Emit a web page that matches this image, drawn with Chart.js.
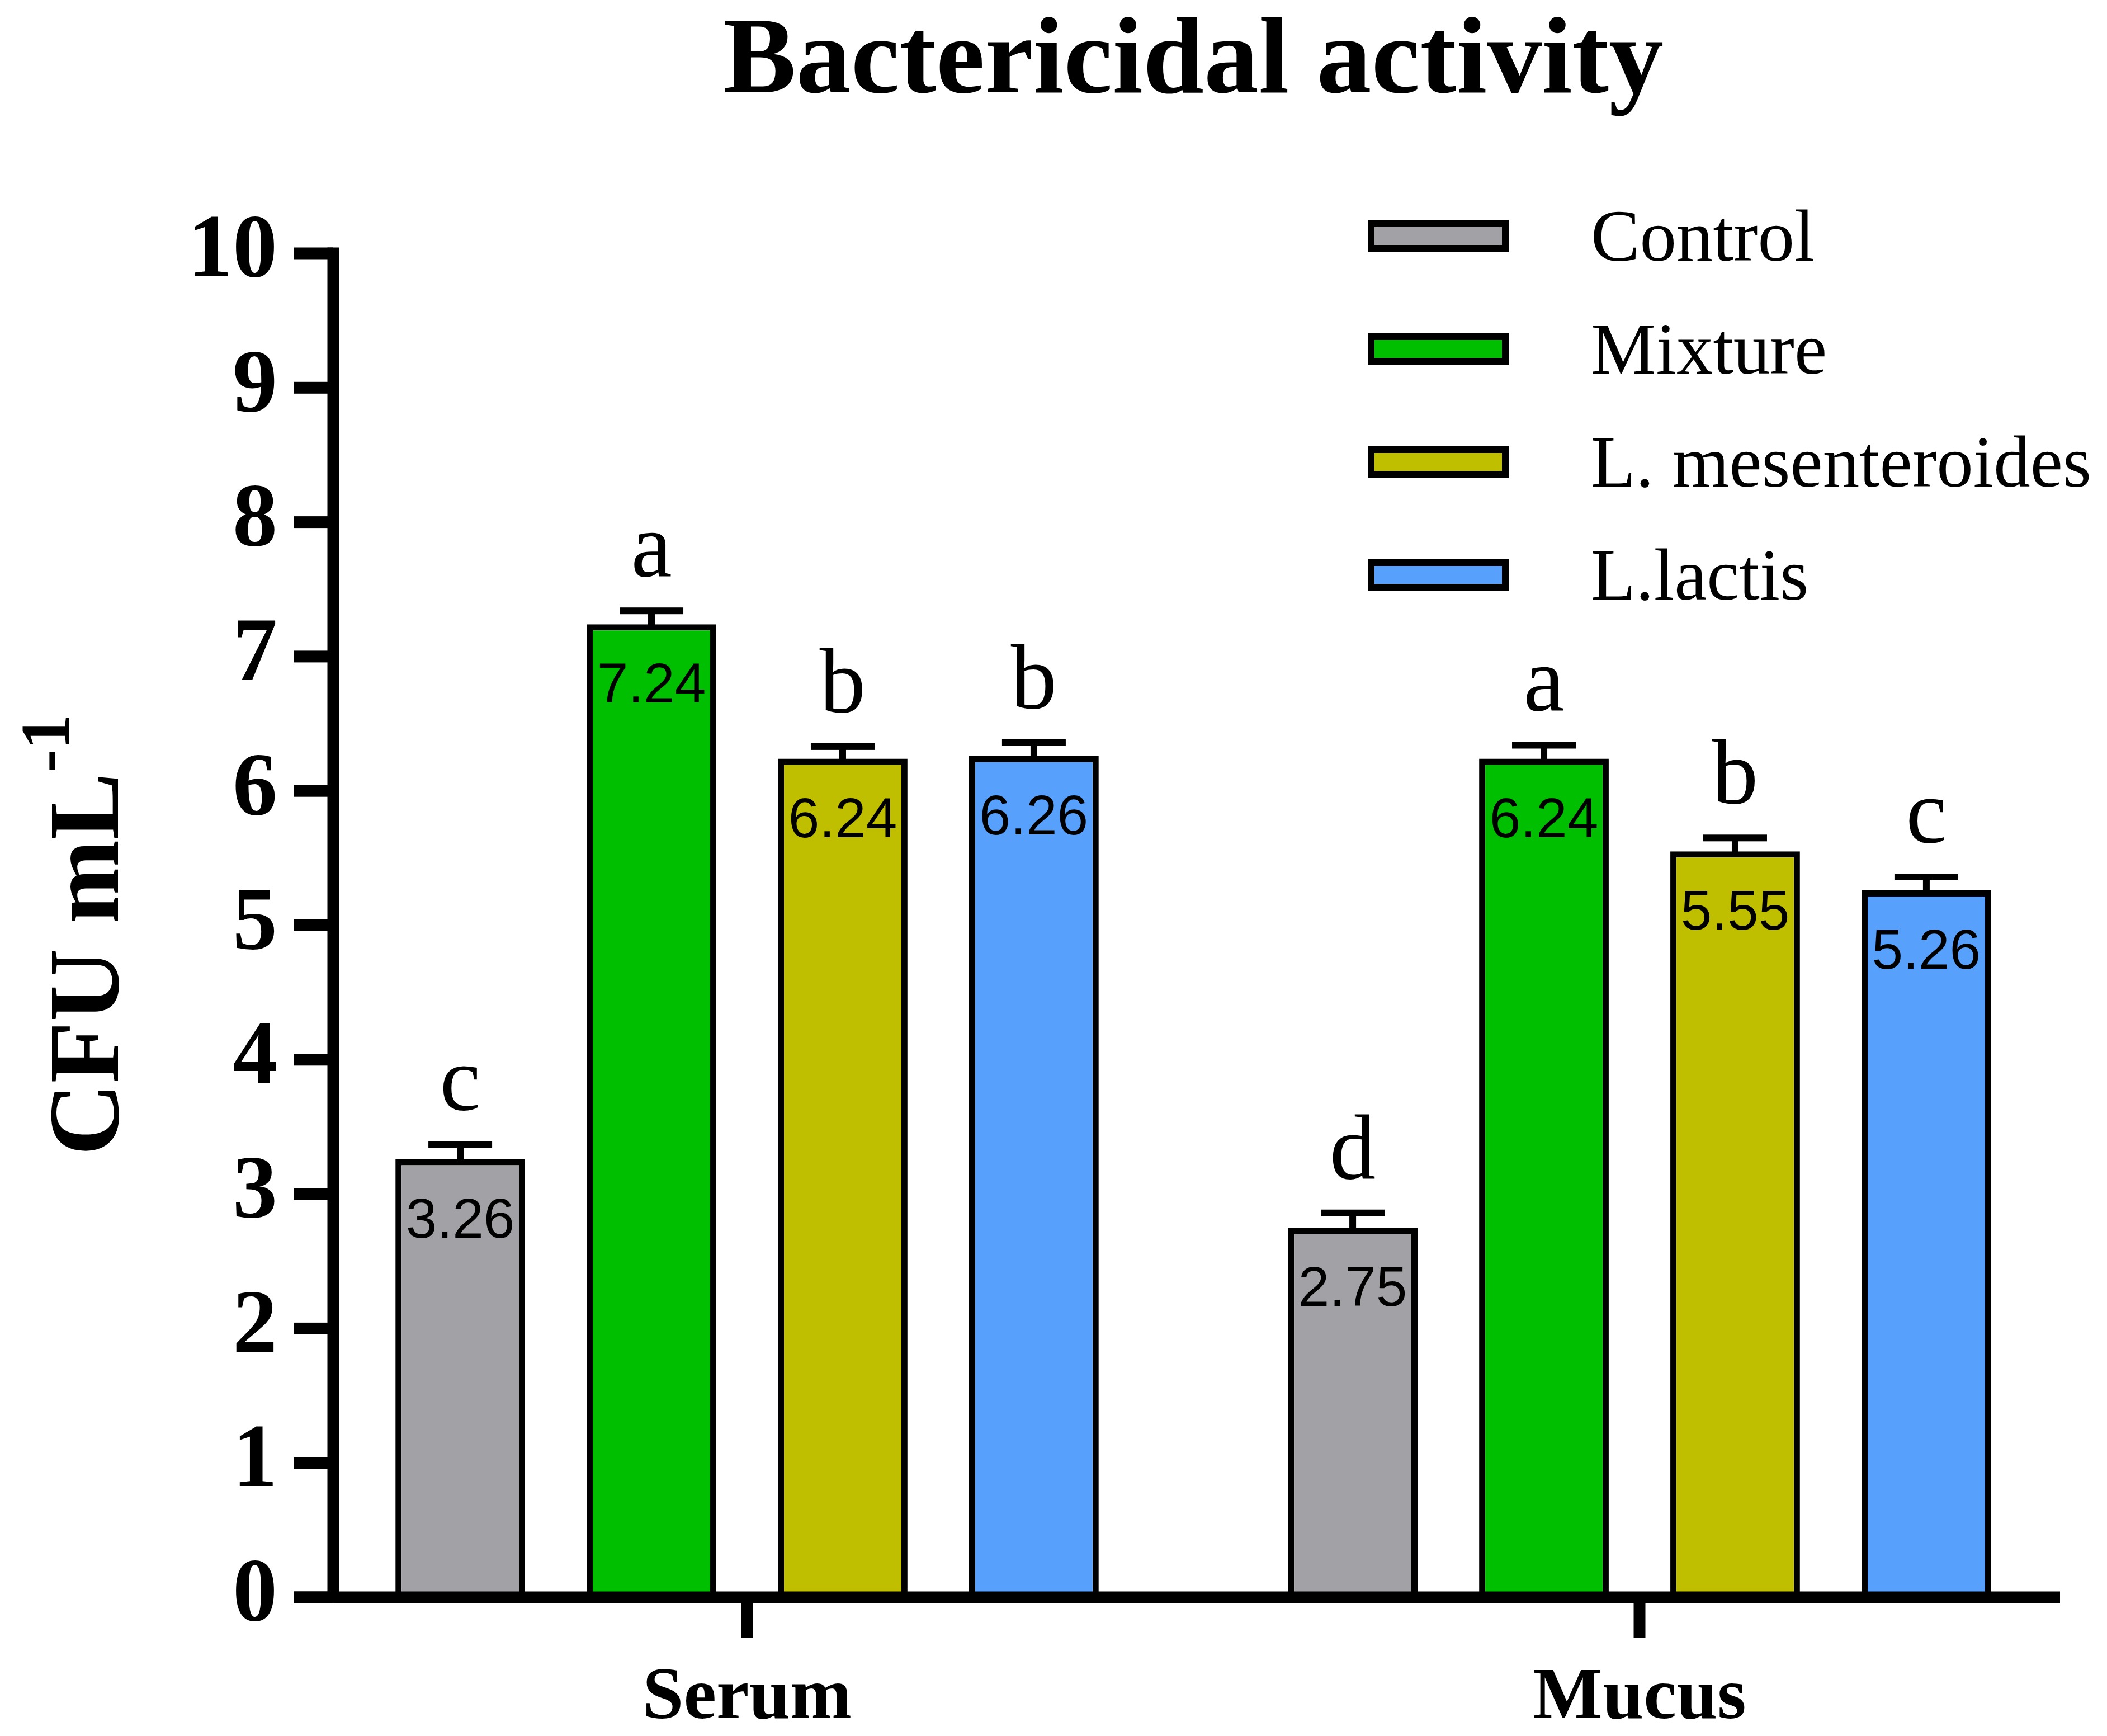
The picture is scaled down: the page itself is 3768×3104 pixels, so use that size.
<!DOCTYPE html>
<html>
<head>
<meta charset="utf-8">
<script src="https://cdn.jsdelivr.net/npm/chart.js@4.4.1/dist/chart.umd.min.js"></script>
<style>
  html, body { margin: 0; padding: 0; background: #fff; }
  #wrap { width: 3768px; height: 3104px; }
</style>
</head>
<body>
<div id="wrap"><canvas id="chart" width="3768" height="3104"></canvas></div>
<script>
// data
const categories = ['Serum', 'Mucus'];
const groups = ['Control', 'Mixture', 'L. mesenteroides', 'L.lactis'];
const controlMeans = [3.26, 2.75];
const mixtureMeans = [7.24, 6.24];
const mesMeans = [6.24, 5.55];
const lactisMeans = [6.26, 5.26];
const controlErr = [0.11, 0.11];
const mixtureErr = [0.10, 0.10];
const mesErr = [0.09, 0.10];
const lactisErr = [0.10, 0.10];
const controlLetters = ['c', 'd'];
const mixtureLetters = ['a', 'a'];
const mesLetters = ['b', 'b'];
const lactisLetters = ['b', 'c'];
const yTicks = [0, 1, 2, 3, 4, 5, 6, 7, 8, 9, 10];

const colors = ['#A2A2A6', '#00BE00', '#BFBF00', '#57A0FC'];
const serif = 'Liberation Serif, Times New Roman, serif';
const sans = 'Liberation Sans, Arial, sans-serif';

const means = [controlMeans, mixtureMeans, mesMeans, lactisMeans];
const errs = [controlErr, mixtureErr, mesErr, lactisErr];
const letters = [controlLetters, mixtureLetters, mesLetters, lactisLetters];

const AXIS_X = 596;      // y axis line
const AXIS_W = 21;       // axis line thickness
const TICK_LEN = 70;
const AXIS_RIGHT = 3684;

const decorations = {
    id: 'decorations',
    afterDatasetsDraw(chart) {
        const ctx = chart.ctx;
        const y = chart.scales.y;
        const x = chart.scales.x;
        ctx.save();
        ctx.fillStyle = '#000';

        // error bars, letters, value labels
        chart.data.datasets.forEach((ds, di) => {
            const meta = chart.getDatasetMeta(di);
            meta.data.forEach((bar, i) => {
                const v = ds.data[i];
                const yErr = y.getPixelForValue(v + errs[di][i]);
                ctx.fillStyle = '#000';
                ctx.fillRect(bar.x - 6, yErr, 12, bar.y - yErr + 4);
                ctx.fillRect(bar.x - 57, yErr - 6, 114, 12);

                ctx.textAlign = 'center';
                ctx.textBaseline = 'alphabetic';
                ctx.font = '165px ' + serif;
                ctx.fillText(letters[di][i], bar.x, yErr - 62);

                ctx.font = '100px ' + sans;
                ctx.fillText(v.toFixed(2), bar.x, bar.y + 140);
            });
        });

        // axes
        const y0 = y.getPixelForValue(0);
        const yTop = y.getPixelForValue(10);
        ctx.fillRect(AXIS_X - AXIS_W / 2, yTop - AXIS_W / 2, AXIS_W, y0 - yTop + AXIS_W / 2);
        yTicks.forEach(t => {
            const py = y.getPixelForValue(t);
            ctx.fillRect(AXIS_X - TICK_LEN, py - AXIS_W / 2, TICK_LEN, AXIS_W);
        });
        ctx.fillRect(AXIS_X - TICK_LEN, y0 - AXIS_W / 2, AXIS_RIGHT - AXIS_X + TICK_LEN, AXIS_W);
        categories.forEach((c, i) => {
            const px = x.getPixelForValue(i);
            ctx.fillRect(px - AXIS_W / 2, y0, AXIS_W, 72);
        });

        // y axis title with superscript
        ctx.save();
        ctx.translate(211, 1672);
        ctx.rotate(-Math.PI / 2);
        ctx.textAlign = 'left';
        ctx.textBaseline = 'alphabetic';
        ctx.font = 'bold 180px ' + serif;
        const main = 'CFU mL';
        const w1 = ctx.measureText(main).width;
        ctx.font = 'bold 125px ' + serif;
        const sup = '-1';
        const w2 = ctx.measureText(sup).width;
        const start = -(w1 + w2) / 2;
        ctx.font = 'bold 180px ' + serif;
        ctx.fillText(main, start, 0);
        ctx.font = 'bold 125px ' + serif;
        ctx.fillText(sup, start + w1, -88);
        ctx.restore();

        // legend
        chart.data.datasets.forEach((ds, i) => {
            const cy = 422 + i * 202;
            ctx.fillStyle = '#000';
            ctx.fillRect(2446, cy - 28, 252, 56);
            ctx.fillStyle = ds.backgroundColor;
            ctx.fillRect(2458, cy - 16, 228, 32);
            ctx.fillStyle = '#000';
            ctx.textAlign = 'left';
            ctx.textBaseline = 'alphabetic';
            ctx.font = '131px ' + serif;
            ctx.fillText(ds.label, 2845, cy + 44);
        });

        ctx.restore();
    }
};

new Chart(document.getElementById('chart'), {
    type: 'bar',
    data: {
        labels: categories,
        datasets: groups.map((g, i) => ({
            label: g,
            data: means[i],
            backgroundColor: colors[i],
            borderColor: '#000',
            borderWidth: 11,
            categoryPercentage: 0.857,
            barPercentage: 0.678
        }))
    },
    options: {
        responsive: false,
        devicePixelRatio: 1,
        animation: false,
        layout: { padding: { top: 0, right: 38, bottom: 0, left: 0 } },
        plugins: {
            legend: { display: false },
            tooltip: { enabled: false },
            title: {
                display: true,
                text: 'Bactericidal activity',
                fullSize: false,
                color: '#000',
                font: { family: serif, size: 196, weight: 'bold', lineHeight: 1 },
                padding: { top: 16, bottom: 241 }
            }
        },
        scales: {
            x: {
                grid: { display: false, drawTicks: false },
                border: { display: false },
                ticks: {
                    color: '#000',
                    padding: 103,
                    font: { family: serif, size: 132, weight: 'bold' }
                },
                afterFit: s => { s.height = 248; }
            },
            y: {
                min: 0,
                max: 10,
                grid: { display: false, drawTicks: false },
                border: { display: false },
                ticks: {
                    stepSize: 1,
                    color: '#000',
                    padding: 42,
                    font: { family: serif, size: 160, weight: 'bold' }
                },
                afterFit: s => { s.width = 538; }
            }
        }
    },
    plugins: [decorations]
});
</script>
</body>
</html>
